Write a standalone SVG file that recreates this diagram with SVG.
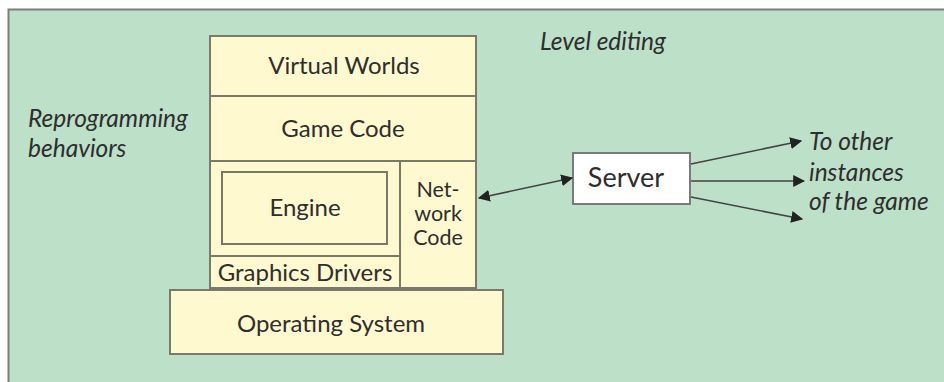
<svg xmlns="http://www.w3.org/2000/svg" width="944" height="382" viewBox="0 0 944 382">
<defs>
<marker id="ah" viewBox="0 0 10 10" refX="9" refY="5" markerWidth="12" markerHeight="12" markerUnits="userSpaceOnUse" orient="auto-start-reverse">
<path d="M0,0 L10,5 L0,10 z" fill="#222"/>
</marker>
<style>
.box{fill:#fff9d0;stroke:#7a7a6a;stroke-width:2}
.lbl{font-family:"Lato","Liberation Sans",sans-serif;font-size:24px;fill:#2e2e2e;text-anchor:middle}
.net{font-size:21.5px}
.it{font-family:"Lato","Liberation Sans",sans-serif;font-size:24.5px;fill:#2e2e2e;font-style:italic}
.con{stroke:#444;stroke-width:1.6;fill:none}
</style>
</defs>
<rect x="0" y="0" width="944" height="382" fill="#ffffff"/>
<rect x="8.5" y="9.5" width="940" height="380" fill="#bde0c9" stroke="#7a7f7a" stroke-width="2"/>
<text class="it" x="540" y="50">Level editing</text>
<text class="it" x="28" y="127">Reprogramming</text>
<text class="it" x="28" y="157">behaviors</text>
<g id="virtual-worlds">
<rect class="box" x="210" y="36" width="266" height="60"/>
<text class="lbl" x="344" y="74">Virtual Worlds</text>
</g>
<g id="game-code">
<rect class="box" x="210" y="96" width="266" height="65"/>
<text class="lbl" x="343" y="137">Game Code</text>
</g>
<g id="engine-area">
<rect class="box" x="210" y="161" width="190" height="95"/>
</g>
<g id="engine">
<rect class="box" x="222" y="172" width="165" height="72"/>
<text class="lbl" x="305" y="216">Engine</text>
</g>
<g id="graphics-drivers">
<rect class="box" x="210" y="256" width="190" height="32"/>
<text class="lbl" x="305" y="281">Graphics Drivers</text>
</g>
<g id="network-code">
<rect class="box" x="400" y="161" width="76" height="127"/>
<text class="lbl net" x="438" y="197">Net-</text>
<text class="lbl net" x="438" y="221">work</text>
<text class="lbl net" x="438" y="245">Code</text>
</g>
<g id="operating-system">
<rect class="box" x="170" y="290" width="333" height="64"/>
<text class="lbl" x="331" y="332">Operating System</text>
</g>
<g id="server">
<rect x="573" y="153" width="117" height="51" fill="#ffffff" stroke="#7a7a7a" stroke-width="2"/>
<text class="lbl" x="626" y="187" style="font-size:27px">Server</text>
</g>
<g id="connectors">
<line class="con" x1="479" y1="198" x2="572" y2="178" marker-start="url(#ah)" marker-end="url(#ah)"/>
<line class="con" x1="691" y1="164" x2="801" y2="141" marker-end="url(#ah)"/>
<line class="con" x1="691" y1="181" x2="804" y2="181" marker-end="url(#ah)"/>
<line class="con" x1="691" y1="197" x2="802" y2="219" marker-end="url(#ah)"/>
</g>
<text class="it" x="809" y="150">To other</text>
<text class="it" x="809" y="181">instances</text>
<text class="it" x="809" y="210">of the game</text>
</svg>
